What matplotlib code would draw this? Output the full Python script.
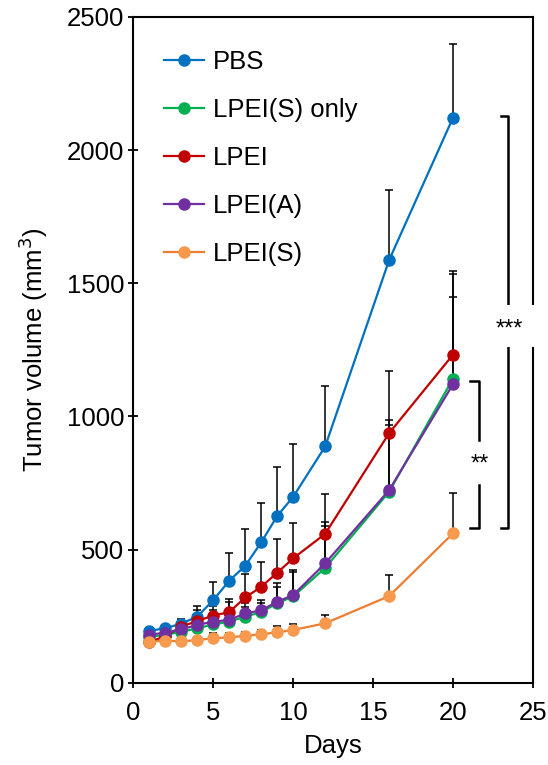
import matplotlib
matplotlib.use("Agg")
import matplotlib.pyplot as plt
from matplotlib.patches import Rectangle

plt.rcParams['font.family'] = ['Liberation Sans', 'DejaVu Sans']

days = [1, 2, 3, 4, 5, 6, 7, 8, 9, 10, 12, 16, 20]

pbs = [195, 204, 222, 248, 310, 383, 439, 527, 626, 698, 887, 1587, 2122]
pbs_err = [12, 10, 16, 40, 69, 105, 138, 146, 185, 198, 226, 262, 278]

s_only = [172, 180, 191, 204, 219, 229, 248, 265, 298, 324, 431, 717, 1142]
s_only_err = [12, 12, 14, 20, 30, 40, 35, 35, 60, 90, 157, 249, 306]

lpei = [152, 175, 210, 232, 252, 265, 320, 360, 413, 467, 559, 937, 1232]
lpei_err = [20, 20, 18, 41, 36, 49, 87, 92, 126, 131, 150, 232, 313]

lpei_a = [180, 188, 200, 217, 229, 236, 260, 272, 304, 329, 448, 723, 1121]
lpei_a_err = [15, 15, 15, 25, 44, 67, 40, 40, 70, 94, 155, 262, 415]

lpei_s = [154, 158, 155, 160, 167, 170, 176, 182, 189, 198, 223, 325, 561]
lpei_s_err = [10, 10, 10, 10, 18, 18, 15, 15, 25, 22, 31, 79, 152]

labels = ['PBS', 'LPEI(S) only', 'LPEI', 'LPEI(A)', 'LPEI(S)']
series = [pbs, s_only, lpei, lpei_a, lpei_s]
errors = [pbs_err, s_only_err, lpei_err, lpei_a_err, lpei_s_err]
line_colors = ['#0070C0', '#00B050', '#C00000', '#7030A0', '#ED7D31']
marker_colors = ['#0070C0', '#00B050', '#C00000', '#7030A0', '#F79A4D']

xticks = [0, 5, 10, 15, 20, 25]
yticks = [0, 500, 1000, 1500, 2000, 2500]

fig = plt.figure(figsize=(5.48, 7.65), dpi=100)
ax = fig.add_axes([0.2433, 0.1076, 0.7293, 0.8702])

FS = 18.5
for i, (vals, err, lab) in enumerate(zip(series, errors, labels)):
    ax.errorbar(days, vals, yerr=[[0] * len(err), err], fmt='none',
                ecolor='black', elinewidth=1.1, capsize=3, capthick=1.1,
                zorder=2 + i * 0.1)
for i, (vals, lab) in enumerate(zip(series, labels)):
    ax.plot(days, vals, '-o', color=line_colors[i], mfc=marker_colors[i],
            mec=marker_colors[i], markersize=8, linewidth=1.6, label=lab,
            zorder=3 + i * 0.1)

ax.set_xlim(0, 25)
ax.set_ylim(0, 2500)
ax.set_xticks(xticks)
ax.set_yticks(yticks)
ax.tick_params(direction='inout', length=7, width=1.3, labelsize=FS,
               top=False, right=False)
ax.tick_params(axis='x', pad=10)
ax.tick_params(axis='y', pad=3)
for sp in ax.spines.values():
    sp.set_linewidth(1.5)

ax.set_xlabel('Days', fontsize=FS, labelpad=6)
ax.set_ylabel('Tumor volume (mm$^3$)', fontsize=FS, labelpad=12)

leg = ax.legend(loc='upper left', bbox_to_anchor=(0.0375, 0.973), frameon=False,
                fontsize=FS, handlelength=1.55, handletextpad=0.35,
                labelspacing=0.93, borderaxespad=0.2)

# significance brackets
bk = dict(color='black', linewidth=1.8, clip_on=False, zorder=3)
ax.plot([22.97, 23.45, 23.45, 22.97], [2127, 2127, 580, 580], **bk)
ax.plot([21.09, 21.63, 21.63], [1133, 1133, 911], **bk)
ax.plot([21.63, 21.63, 21.09], [742, 580, 580], **bk)
ax.add_patch(Rectangle((22.75, 1262), 2.7, 156, facecolor='white',
                       edgecolor='none', clip_on=False, zorder=4))
ax.text(23.5, 1325, '***', fontsize=17, ha='center', va='center', zorder=5)
ax.text(21.65, 820, '**', fontsize=17, ha='center', va='center', zorder=5)

fig.savefig('out.png', dpi=100)
